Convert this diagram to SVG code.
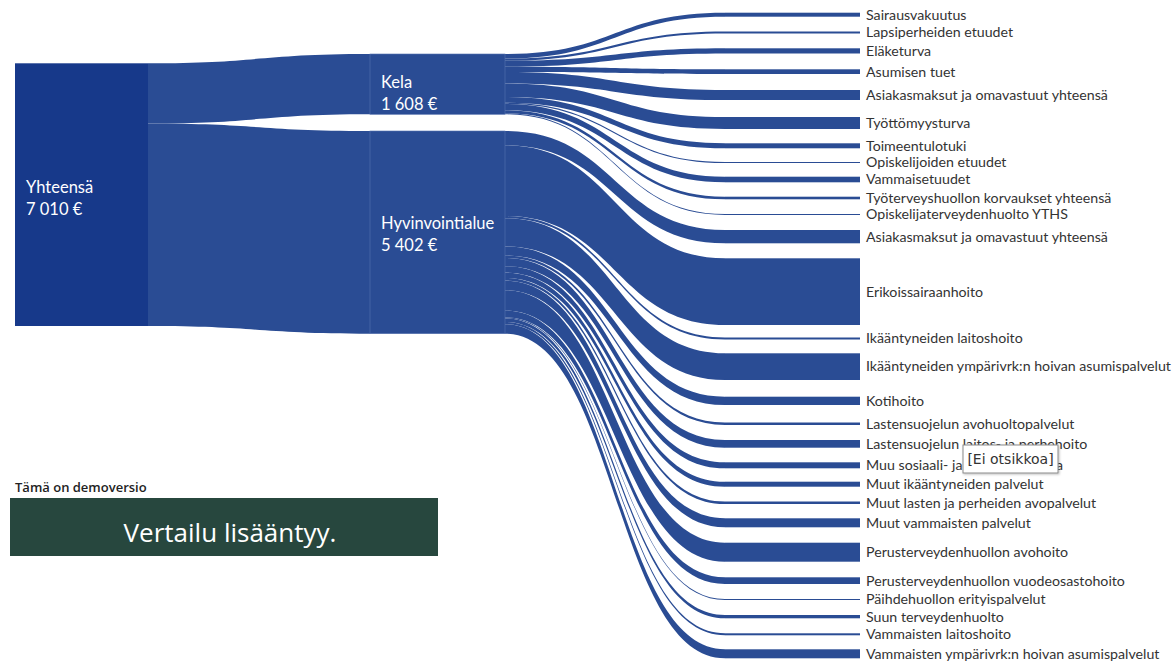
<svg xmlns="http://www.w3.org/2000/svg" width="1175" height="662" viewBox="0 0 1175 662">
<defs>
<filter id="tipshadow" x="-10%" y="-20%" width="130%" height="160%">
<feDropShadow dx="1" dy="1" stdDeviation="1" flood-color="#000000" flood-opacity="0.25"/>
</filter>
</defs>
<style>
.bg{fill:#ffffff}
.link{fill:#2a4c94}
.node-root{fill:#17398a}
.node{fill:#2a4c94;stroke:#5572ae;stroke-width:0.6}
.tnode{fill:#2a4c94}
.nl{font-family:Lato,"Liberation Sans",sans-serif;font-size:16.5px;fill:#ffffff}
.tl{font-family:Lato,"Liberation Sans",sans-serif;font-size:14.2px;fill:#333333}
.demo{font-family:"Open Sans","Liberation Sans",sans-serif;font-size:13px;font-weight:600;fill:#222222}
.big{font-family:"Open Sans","Liberation Sans",sans-serif;font-size:26px;font-weight:500;fill:#ffffff}
.tip{font-family:"DejaVu Sans","Liberation Sans",sans-serif;font-size:14px;fill:#333333}
</style>
<rect class="bg" x="0" y="0" width="1175" height="662"/>
<g id="connectors">
<path class="link" d="M148 63.3 C259 63.3 259 54 370 54 L370 114.3 C259 114.3 259 123.6 148 123.6 Z"/>
<path class="link" d="M148 123.6 C259 123.6 259 131 370 131 L370 333.7 C259 333.7 259 326 148 326 Z"/>
<path class="link" d="M505 54 C615 54 615 12.7 725 12.7 L725 16.7 C615 16.7 615 58.54 505 58.54 Z"/>
<path class="link" d="M505 58.54 C615 58.54 615 31.5 725 31.5 L725 33.5 C615 33.5 615 60.81 505 60.81 Z"/>
<path class="link" d="M505 60.81 C615 60.81 615 48.3 725 48.3 L725 53.5 C615 53.5 615 66.72 505 66.72 Z"/>
<path class="link" d="M505 66.72 C615 66.72 615 69.3 725 69.3 L725 74 C615 74 615 72.06 505 72.06 Z"/>
<path class="link" d="M505 72.06 C615 72.06 615 90 725 90 L725 100 C615 100 615 83.42 505 83.42 Z"/>
<path class="link" d="M505 83.42 C615 83.42 615 117 725 117 L725 129 C615 129 615 97.05 505 97.05 Z"/>
<path class="link" d="M505 97.05 C615 97.05 615 143.3 725 143.3 L725 148.3 C615 148.3 615 102.73 505 102.73 Z"/>
<path class="link" d="M505 102.73 C615 102.73 615 162 725 162 L725 163 C615 163 615 103.87 505 103.87 Z"/>
<path class="link" d="M505 103.87 C615 103.87 615 176.7 725 176.7 L725 182.3 C615 182.3 615 110.23 505 110.23 Z"/>
<path class="link" d="M505 110.23 C615 110.23 615 196.7 725 196.7 L725 199.3 C615 199.3 615 113.18 505 113.18 Z"/>
<path class="link" d="M505 113.18 C615 113.18 615 214 725 214 L725 215 C615 215 615 114.32 505 114.32 Z"/>
<path class="link" d="M505 131 C615 131 615 230 725 230 L725 243.3 C615 243.3 615 145.14 505 145.14 Z"/>
<path class="link" d="M505 145.14 C615 145.14 615 258.3 725 258.3 L725 325 C615 325 615 216.04 505 216.04 Z"/>
<path class="link" d="M505 216.04 C615 216.04 615 337.5 725 337.5 L725 339.5 C615 339.5 615 218.17 505 218.17 Z"/>
<path class="link" d="M505 218.17 C615 218.17 615 353.3 725 353.3 L725 380 C615 380 615 246.55 505 246.55 Z"/>
<path class="link" d="M505 246.55 C615 246.55 615 396.7 725 396.7 L725 405 C615 405 615 255.37 505 255.37 Z"/>
<path class="link" d="M505 255.37 C615 255.37 615 422.5 725 422.5 L725 425 C615 425 615 258.03 505 258.03 Z"/>
<path class="link" d="M505 258.03 C615 258.03 615 440 725 440 L725 447.7 C615 447.7 615 266.21 505 266.21 Z"/>
<path class="link" d="M505 266.21 C615 266.21 615 462.3 725 462.3 L725 468.3 C615 468.3 615 272.59 505 272.59 Z"/>
<path class="link" d="M505 272.59 C615 272.59 615 481.7 725 481.7 L725 486.7 C615 486.7 615 277.91 505 277.91 Z"/>
<path class="link" d="M505 277.91 C615 277.91 615 501.5 725 501.5 L725 504 C615 504 615 280.57 505 280.57 Z"/>
<path class="link" d="M505 280.57 C615 280.57 615 518.3 725 518.3 L725 527.3 C615 527.3 615 290.14 505 290.14 Z"/>
<path class="link" d="M505 290.14 C615 290.14 615 542.7 725 542.7 L725 561.7 C615 561.7 615 310.34 505 310.34 Z"/>
<path class="link" d="M505 310.34 C615 310.34 615 577.3 725 577.3 L725 584 C615 584 615 317.46 505 317.46 Z"/>
<path class="link" d="M505 317.46 C615 317.46 615 599 725 599 L725 600 C615 600 615 318.52 505 318.52 Z"/>
<path class="link" d="M505 318.52 C615 318.52 615 615 725 615 L725 618.3 C615 618.3 615 322.03 505 322.03 Z"/>
<path class="link" d="M505 322.03 C615 322.03 615 633.3 725 633.3 L725 635.3 C615 635.3 615 324.16 505 324.16 Z"/>
<path class="link" d="M505 324.16 C615 324.16 615 649.3 725 649.3 L725 658.3 C615 658.3 615 333.73 505 333.73 Z"/>
</g>
<g id="node-yhteensa">
<rect class="node-root" x="15" y="63.3" width="133" height="262.7"/>
<text class="nl" x="26" y="193">Yhteensä</text>
<text class="nl" x="26" y="215">7 010 €</text>
</g>
<g id="node-kela">
<rect class="node" x="370" y="54" width="135" height="60.3"/>
<text class="nl" x="381" y="88">Kela</text>
<text class="nl" x="381" y="110">1 608 €</text>
</g>
<g id="node-hyvinvointialue">
<rect class="node" x="370" y="131" width="135" height="202.7"/>
<text class="nl" x="381" y="229">Hyvinvointialue</text>
<text class="nl" x="381" y="251">5 402 €</text>
</g>
<g id="node-sairausvakuutus"><rect class="tnode" x="725" y="12.7" width="135" height="4"/><text class="tl" x="866" y="14.7" dy=".35em">Sairausvakuutus</text></g>
<g id="node-lapsiperheiden-etuudet"><rect class="tnode" x="725" y="31.5" width="135" height="2"/><text class="tl" x="866" y="32.5" dy=".35em">Lapsiperheiden etuudet</text></g>
<g id="node-elaketurva"><rect class="tnode" x="725" y="48.3" width="135" height="5.2"/><text class="tl" x="866" y="50.9" dy=".35em">Eläketurva</text></g>
<g id="node-asumisen-tuet"><rect class="tnode" x="725" y="69.3" width="135" height="4.7"/><text class="tl" x="866" y="71.7" dy=".35em">Asumisen tuet</text></g>
<g id="node-asiakasmaksut-kela"><rect class="tnode" x="725" y="90" width="135" height="10"/><text class="tl" x="866" y="95" dy=".35em">Asiakasmaksut ja omavastuut yhteensä</text></g>
<g id="node-tyottomyysturva"><rect class="tnode" x="725" y="117" width="135" height="12"/><text class="tl" x="866" y="123" dy=".35em">Työttömyysturva</text></g>
<g id="node-toimeentulotuki"><rect class="tnode" x="725" y="143.3" width="135" height="5"/><text class="tl" x="866" y="145.8" dy=".35em">Toimeentulotuki</text></g>
<g id="node-opiskelijoiden-etuudet"><rect class="tnode" x="725" y="162" width="135" height="1"/><text class="tl" x="866" y="162.5" dy=".35em">Opiskelijoiden etuudet</text></g>
<g id="node-vammaisetuudet"><rect class="tnode" x="725" y="176.7" width="135" height="5.6"/><text class="tl" x="866" y="179.5" dy=".35em">Vammaisetuudet</text></g>
<g id="node-tyoterveyshuolto"><rect class="tnode" x="725" y="196.7" width="135" height="2.6"/><text class="tl" x="866" y="198" dy=".35em">Työterveyshuollon korvaukset yhteensä</text></g>
<g id="node-yths"><rect class="tnode" x="725" y="214" width="135" height="1"/><text class="tl" x="866" y="214.5" dy=".35em">Opiskelijaterveydenhuolto YTHS</text></g>
<g id="node-asiakasmaksut-hyv"><rect class="tnode" x="725" y="230" width="135" height="13.3"/><text class="tl" x="866" y="236.7" dy=".35em">Asiakasmaksut ja omavastuut yhteensä</text></g>
<g id="node-erikoissairaanhoito"><rect class="tnode" x="725" y="258.3" width="135" height="66.7"/><text class="tl" x="866" y="291.7" dy=".35em">Erikoissairaanhoito</text></g>
<g id="node-ikaantyneiden-laitoshoito"><rect class="tnode" x="725" y="337.5" width="135" height="2"/><text class="tl" x="866" y="338.5" dy=".35em">Ikääntyneiden laitoshoito</text></g>
<g id="node-ikaantyneiden-asumispalvelut"><rect class="tnode" x="725" y="353.3" width="135" height="26.7"/><text class="tl" x="866" y="366" dy=".35em">Ikääntyneiden ympärivrk:n hoivan asumispalvelut</text></g>
<g id="node-kotihoito"><rect class="tnode" x="725" y="396.7" width="135" height="8.3"/><text class="tl" x="866" y="401.5" dy=".35em">Kotihoito</text></g>
<g id="node-lastensuojelu-avo"><rect class="tnode" x="725" y="422.5" width="135" height="2.5"/><text class="tl" x="866" y="423.8" dy=".35em">Lastensuojelun avohuoltopalvelut</text></g>
<g id="node-lastensuojelu-laitos"><rect class="tnode" x="725" y="440" width="135" height="7.7"/><text class="tl" x="866" y="443.8" dy=".35em">Lastensuojelun laitos- ja perhehoito</text></g>
<g id="node-muu-sosiaali"><rect class="tnode" x="725" y="462.3" width="135" height="6"/><text class="tl" x="866" y="465.3" dy=".35em">Muu sosiaali- ja terveystoiminta</text></g>
<g id="node-muut-ikaantyneiden"><rect class="tnode" x="725" y="481.7" width="135" height="5"/><text class="tl" x="866" y="484.2" dy=".35em">Muut ikääntyneiden palvelut</text></g>
<g id="node-muut-lasten"><rect class="tnode" x="725" y="501.5" width="135" height="2.5"/><text class="tl" x="866" y="502.8" dy=".35em">Muut lasten ja perheiden avopalvelut</text></g>
<g id="node-muut-vammaisten"><rect class="tnode" x="725" y="518.3" width="135" height="9"/><text class="tl" x="866" y="522.8" dy=".35em">Muut vammaisten palvelut</text></g>
<g id="node-perusterveys-avo"><rect class="tnode" x="725" y="542.7" width="135" height="19"/><text class="tl" x="866" y="552.2" dy=".35em">Perusterveydenhuollon avohoito</text></g>
<g id="node-perusterveys-vuode"><rect class="tnode" x="725" y="577.3" width="135" height="6.7"/><text class="tl" x="866" y="580.7" dy=".35em">Perusterveydenhuollon vuodeosastohoito</text></g>
<g id="node-paihdehuolto"><rect class="tnode" x="725" y="599" width="135" height="1"/><text class="tl" x="866" y="599.5" dy=".35em">Päihdehuollon erityispalvelut</text></g>
<g id="node-suun-terveys"><rect class="tnode" x="725" y="615" width="135" height="3.3"/><text class="tl" x="866" y="616.7" dy=".35em">Suun terveydenhuolto</text></g>
<g id="node-vammaisten-laitos"><rect class="tnode" x="725" y="633.3" width="135" height="2"/><text class="tl" x="866" y="634.3" dy=".35em">Vammaisten laitoshoito</text></g>
<g id="node-vammaisten-asumispalvelut"><rect class="tnode" x="725" y="649.3" width="135" height="9"/><text class="tl" x="866" y="653.8" dy=".35em">Vammaisten ympärivrk:n hoivan asumispalvelut</text></g>
<g id="demo">
<text class="demo" x="15" y="492">Tämä on demoversio</text>
<rect x="10" y="498" width="428" height="58" fill="#27473e"/>
<text class="big" x="230" y="542" text-anchor="middle">Vertailu lisääntyy.</text>
</g>
<g id="tooltip">
<rect x="963" y="445" width="95" height="28" fill="#ffffff" stroke="#8a8a8a" stroke-width="1" filter="url(#tipshadow)"/>
<text class="tip" x="1010.5" y="464" text-anchor="middle">[Ei otsikkoa]</text>
</g>
</svg>
